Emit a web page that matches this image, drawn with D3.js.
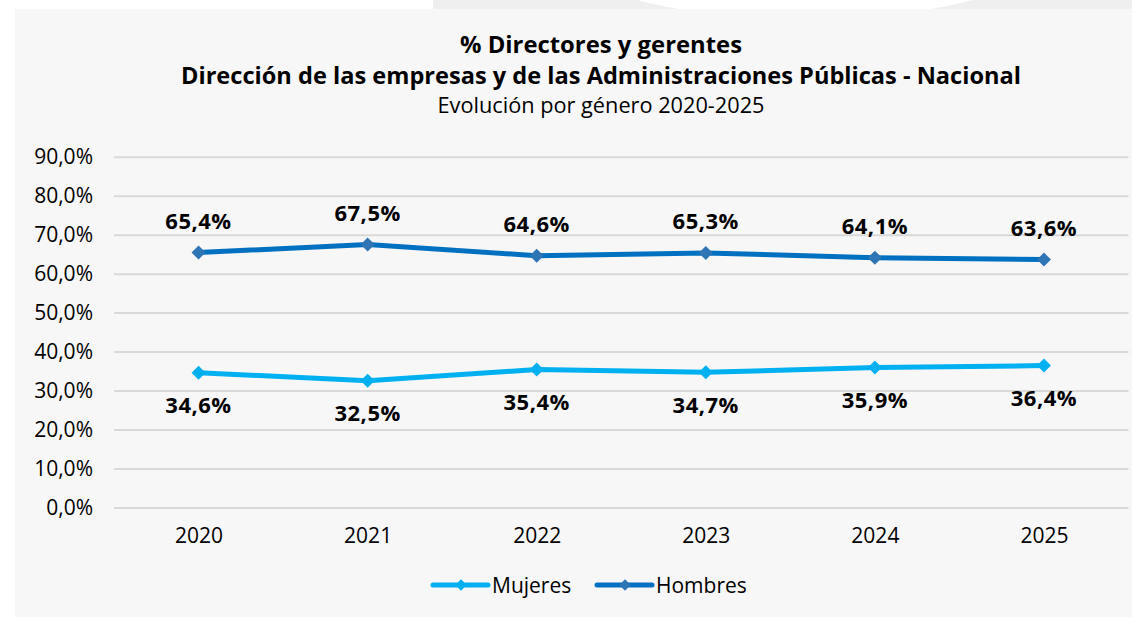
<!DOCTYPE html>
<html>
<head>
<meta charset="utf-8">
<script src="https://cdn.jsdelivr.net/npm/d3@7"></script>
<style>
  html, body { margin: 0; padding: 0; background: #ffffff; }
  svg { display: block; }
  text { font-family: "Open Sans", "Noto Sans", sans-serif; fill: #000; }
</style>
</head>
<body>
<div class="chart"></div>
<script>
// data
var years = ["2020", "2021", "2022", "2023", "2024", "2025"];
var mujeres = [34.6, 32.5, 35.4, 34.7, 35.9, 36.4];
var hombres = [65.4, 67.5, 64.6, 65.3, 64.1, 63.6];
var yTicks = [0, 10, 20, 30, 40, 50, 60, 70, 80, 90];
var seriesNames = ["Mujeres", "Hombres"];
var titleLines = [
  "% Directores y gerentes",
  "Dirección de las empresas y de las Administraciones Públicas - Nacional",
  "Evolución por género 2020-2025"
];

var W = 1132, H = 617;
var series = [
  { name: seriesNames[0], values: mujeres, line: "#00b0f0", mark: "#00b0f0", above: false },
  { name: seriesNames[1], values: hombres, line: "#0070c0", mark: "#2e75b6", above: true }
];

var svg = d3.select(".chart").append("svg")
    .attr("width", W)
    .attr("height", H);

// top decorative strip + panel
svg.append("rect").attr("x", 433).attr("y", 0).attr("width", W - 433).attr("height", 12)
    .style("fill", "#efefef");
svg.append("ellipse").attr("cx", 805).attr("cy", -22).attr("rx", 200).attr("ry", 40)
    .style("fill", "#ffffff");
svg.append("ellipse").attr("cx", 380).attr("cy", -40).attr("rx", 62).attr("ry", 52)
    .style("fill", "#ffffff");
svg.append("rect").attr("x", 15).attr("y", 9).attr("width", W).attr("height", H)
    .style("fill", "#f7f7f7");

// titles
var tSpec = [
  { y: 53, size: 23, weight: 700, len: 282 },
  { y: 84, size: 23, weight: 700, len: 840 },
  { y: 113, size: 21, weight: 400, len: 327 }
];
svg.selectAll(".title").data(titleLines).enter().append("text")
    .attr("class", "title")
    .attr("x", 601)
    .attr("y", function(d, i) { return tSpec[i].y; })
    .attr("text-anchor", "middle")
    .attr("textLength", function(d, i) { return tSpec[i].len; })
    .attr("lengthAdjust", "spacingAndGlyphs")
    .style("font-size", function(d, i) { return tSpec[i].size + "px"; })
    .style("font-weight", function(d, i) { return tSpec[i].weight; })
    .text(function(d) { return d; });

// scales
var x = d3.scalePoint().domain(years).range([114, 1128.5]).padding(0.5);
var y = d3.scaleLinear().domain([0, 90]).range([507.5, 156.7]);

var fmt = function(v) { return d3.format(".1f")(v).replace(".", ",") + "%"; };

// y axis + grid
var yAxis = svg.append("g")
    .attr("transform", "translate(114,0)")
    .call(d3.axisLeft(y).tickValues(yTicks).tickFormat(fmt)
        .tickSize(-(1128.5 - 114)).tickPadding(21));
yAxis.select(".domain").remove();
yAxis.selectAll("line").style("stroke", "#d9d9d9").style("stroke-width", 2);
yAxis.selectAll("text").style("font-size", "21px").style("font-family", "'Open Sans', sans-serif")
    .style("fill", "#000");

// x axis
var xAxis = svg.append("g")
    .attr("transform", "translate(0,507.5)")
    .call(d3.axisBottom(x).tickSize(0).tickPadding(20.5));
xAxis.select(".domain").remove();
xAxis.selectAll("text").style("font-size", "21px").style("font-family", "'Open Sans', sans-serif")
    .style("fill", "#000");

var line = d3.line()
    .x(function(d, i) { return x(years[i]); })
    .y(function(d) { return y(d); });

var diamond = d3.symbol().type(d3.symbolDiamond2).size(125);

series.forEach(function(s) {
  var g = svg.append("g");
  g.append("path")
      .datum(s.values)
      .attr("d", line)
      .style("fill", "none")
      .style("stroke", s.line)
      .style("stroke-width", 5)
      .style("stroke-linejoin", "round");

  g.selectAll(".pt").data(s.values).enter().append("path")
      .attr("d", diamond)
      .attr("transform", function(d, i) { return "translate(" + x(years[i]) + "," + y(d) + ")"; })
      .style("fill", s.mark);

  g.selectAll(".lbl").data(s.values).enter().append("text")
      .attr("x", function(d, i) { return x(years[i]); })
      .attr("y", function(d) { return y(d) + (s.above ? -23.5 : 40.5); })
      .attr("text-anchor", "middle")
      .style("font-size", "22px")
      .style("font-weight", 700)
      .style("letter-spacing", "0.5px")
      .text(fmt);
});

// legend
var legX = [433, 597];
var leg = svg.selectAll(".leg").data(series).enter().append("g")
    .attr("transform", function(d, i) { return "translate(" + legX[i] + ",585)"; });
leg.append("line")
    .attr("x1", 0).attr("x2", 55)
    .style("stroke", function(d) { return d.line; })
    .style("stroke-width", 5)
    .style("stroke-linecap", "round");
leg.append("path")
    .attr("d", d3.symbol().type(d3.symbolDiamond2).size(85))
    .attr("transform", "translate(28,0)")
    .style("fill", function(d) { return d.mark; });
leg.append("text")
    .attr("x", 59)
    .attr("y", 7.5)
    .style("font-size", "21px")
    .text(function(d) { return d.name; });
</script>
</body>
</html>
